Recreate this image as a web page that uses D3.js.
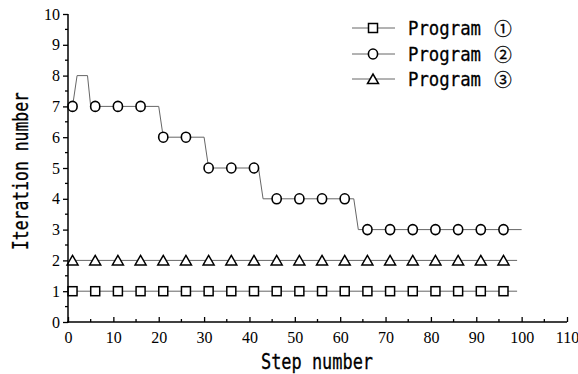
<!DOCTYPE html>
<html>
<head>
<meta charset="utf-8">
<script src="https://cdn.jsdelivr.net/npm/d3@7"></script>
<style>
  html, body { margin: 0; padding: 0; background: #fff; }
  svg { display: block; }
</style>
</head>
<body>
<svg id="chart" width="578" height="374"></svg>
<script>
// ---- data ----
const seriesNames = ["Program", "Program", "Program"];
const seriesMarks = ["\u2460", "\u2461", "\u2462"];
// Program 1 line
const p1LineSteps = [1, 99];
const p1LineValues = [1, 1];
// Program 2 step line (breakpoints)
const p2LineSteps = [1, 2, 4.3, 5, 20, 21, 30, 31, 42, 43, 63, 64, 100];
const p2LineValues = [7, 8, 8, 7, 7, 6, 6, 5, 5, 4, 4, 3, 3];
// Program 3 line
const p3LineSteps = [1, 99];
const p3LineValues = [2, 2];
// marker positions
const markerSteps = [1, 6, 11, 16, 21, 26, 31, 36, 41, 46, 51, 56, 61, 66, 71, 76, 81, 86, 91, 96];
const p1MarkerValues = [1, 1, 1, 1, 1, 1, 1, 1, 1, 1, 1, 1, 1, 1, 1, 1, 1, 1, 1, 1];
const p2MarkerValues = [7, 7, 7, 7, 6, 6, 5, 5, 5, 4, 4, 4, 4, 3, 3, 3, 3, 3, 3, 3];
const p3MarkerValues = [2, 2, 2, 2, 2, 2, 2, 2, 2, 2, 2, 2, 2, 2, 2, 2, 2, 2, 2, 2];
const xTicks = [0, 10, 20, 30, 40, 50, 60, 70, 80, 90, 100, 110];
const yTicks = [0, 1, 2, 3, 4, 5, 6, 7, 8, 9, 10];
const xLabel = "Step number";
const yLabel = "Iteration number";

(function () {
// ---- layout ----
const svg = d3.select("#chart");
const mLeft = 68, mRight = 567, mTop = 14, mBottom = 322;
const x = d3.scaleLinear().domain([0, 110]).range([mLeft, mRight]);
const y = d3.scaleLinear().domain([0, 10]).range([mBottom, mTop]);

const zip = (a, b) => a.map((v, i) => [v, b[i]]);
const line = d3.line().x(d => x(d[0])).y(d => y(d[1]));

const lineColor = "#666";
svg.append("path").attr("d", line(zip(p1LineSteps, p1LineValues)))
  .attr("fill", "none").attr("stroke", lineColor).attr("stroke-width", 1);
svg.append("path").attr("d", line(zip(p2LineSteps, p2LineValues)))
  .attr("fill", "none").attr("stroke", lineColor).attr("stroke-width", 1);
svg.append("path").attr("d", line(zip(p3LineSteps, p3LineValues)))
  .attr("fill", "none").attr("stroke", lineColor).attr("stroke-width", 1);

// marker symbol drawers
function square(g, cx, cy) {
  g.append("rect").attr("x", cx - 4.5).attr("y", cy - 4.5).attr("width", 9).attr("height", 9)
    .attr("fill", "#fff").attr("stroke", "#000").attr("stroke-width", 1.5);
}
function circle(g, cx, cy) {
  g.append("ellipse").attr("cx", cx).attr("cy", cy).attr("rx", 4.6).attr("ry", 5)
    .attr("fill", "#fff").attr("stroke", "#000").attr("stroke-width", 1.6);
}
function triangle(g, cx, cy) {
  g.append("path").attr("d", `M${cx - 5.5},${cy + 4.5}L${cx + 5.5},${cy + 4.5}L${cx},${cy - 5}Z`)
    .attr("fill", "#fff").attr("stroke", "#000").attr("stroke-width", 1.5);
}

const mk = svg.append("g");
markerSteps.forEach((s, i) => square(mk, x(s), y(p1MarkerValues[i])));
markerSteps.forEach((s, i) => circle(mk, x(s), y(p2MarkerValues[i])));
markerSteps.forEach((s, i) => triangle(mk, x(s), y(p3MarkerValues[i])));

// ---- axes ----
const xAxis = d3.axisBottom(x).tickValues(xTicks).tickSize(-5).tickSizeOuter(0).tickPadding(10)
  .tickFormat(d3.format("d"));
const gx = svg.append("g").attr("transform", `translate(0,${mBottom})`).call(xAxis);
gx.select(".domain").attr("stroke-width", 1.5).attr("d", `M${mLeft - 1},0H${mRight}`);
gx.selectAll(".tick line").attr("stroke-width", 1.3);
gx.selectAll(".tick text").attr("font-family", "'Liberation Serif', 'Times New Roman', serif")
  .attr("font-size", 16).attr("fill", "#000").attr("dy", "0.71em");
const xMinor = xTicks.slice(0, -1).map(t => t + 5);
gx.selectAll(".minor").data(xMinor).enter().append("line")
  .attr("x1", d => x(d)).attr("x2", d => x(d)).attr("y1", 0).attr("y2", -3)
  .attr("stroke", "#000").attr("stroke-width", 1.3);

const yAxis = d3.axisLeft(y).tickValues(yTicks).tickSize(5).tickSizeOuter(0).tickPadding(3)
  .tickFormat(d3.format("d"));
const gy = svg.append("g").attr("transform", `translate(${mLeft},0)`).call(yAxis);
gy.select(".domain").attr("stroke-width", 1.5).attr("d", `M0,${mBottom + 1}V${mTop}`);
gy.selectAll(".tick line").attr("stroke-width", 1.3);
gy.selectAll(".tick text").attr("font-family", "'Liberation Serif', 'Times New Roman', serif")
  .attr("font-size", 16).attr("fill", "#000");
const yMinor = yTicks.slice(0, -1).map(t => t + 0.5);
gy.selectAll(".minor").data(yMinor).enter().append("line")
  .attr("y1", d => y(d)).attr("y2", d => y(d)).attr("x1", 0).attr("x2", -3)
  .attr("stroke", "#000").attr("stroke-width", 1.3);

// ---- axis titles ----
const titleFont = "'DejaVu Sans Mono', 'Liberation Mono', monospace";
svg.append("text").text(xLabel).attr("x", 261).attr("y", 369)
  .attr("font-family", titleFont).attr("font-size", 21)
  .attr("textLength", 112).attr("lengthAdjust", "spacingAndGlyphs").attr("fill", "#000")
  .attr("stroke", "#000").attr("stroke-width", 0.3);
svg.append("text").text(yLabel)
  .attr("transform", "translate(28,250) rotate(-90)")
  .attr("font-family", titleFont).attr("font-size", 21)
  .attr("textLength", 158).attr("lengthAdjust", "spacingAndGlyphs").attr("fill", "#000")
  .attr("stroke", "#000").attr("stroke-width", 0.3);

// ---- legend ----
const legendYs = [28, 54, 79];
const drawers = [square, circle, triangle];
const lg = svg.append("g");
seriesNames.forEach((name, i) => {
  const ly = legendYs[i];
  lg.append("line").attr("x1", 352).attr("x2", 395).attr("y1", ly).attr("y2", ly)
    .attr("stroke", lineColor).attr("stroke-width", 1);
  drawers[i](lg, 373, ly);
  lg.append("text").text(name).attr("x", 408).attr("y", ly + 7)
    .attr("font-family", titleFont).attr("font-size", 20)
    .attr("textLength", 73).attr("lengthAdjust", "spacingAndGlyphs").attr("fill", "#000")
    .attr("stroke", "#000").attr("stroke-width", 0.3);
  lg.append("text").text(seriesMarks[i]).attr("x", 503).attr("y", ly + 6.5)
    .attr("text-anchor", "middle")
    .attr("font-family", "'Noto Sans CJK JP', sans-serif").attr("font-size", 17.5)
    .attr("fill", "#000").attr("stroke", "#000").attr("stroke-width", 0.3);
});
})();
</script>
</body>
</html>
